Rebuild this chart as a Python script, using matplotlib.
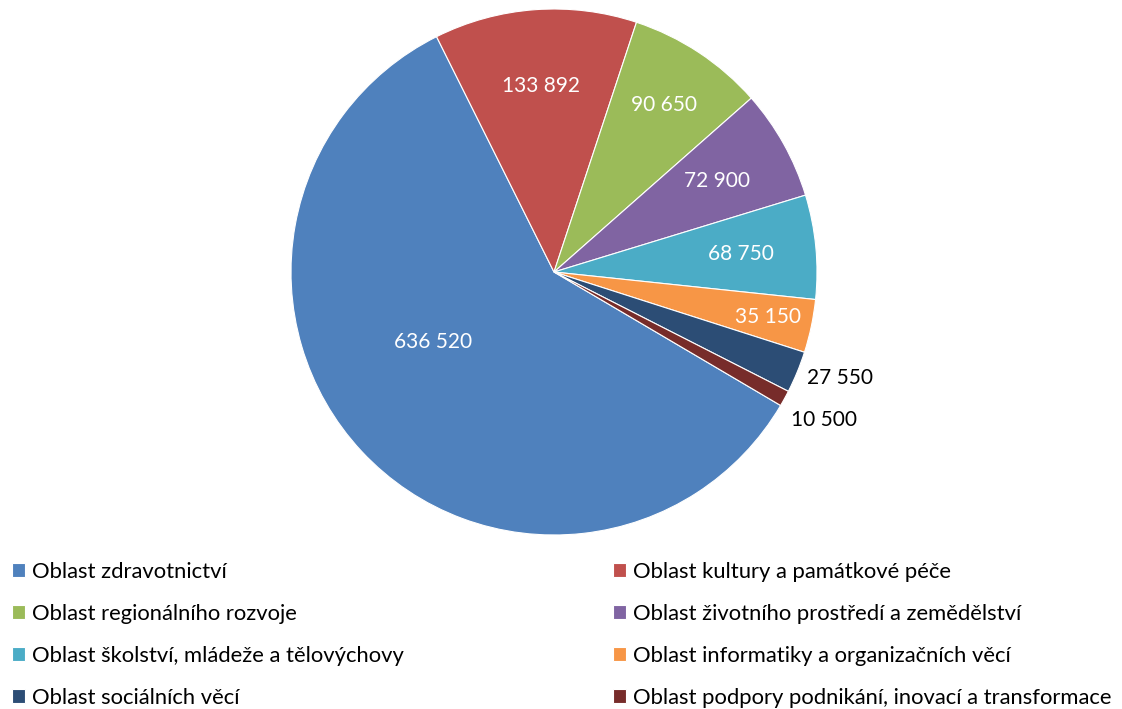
import numpy as np
import matplotlib
matplotlib.use("Agg")
from matplotlib import pyplot as plt

plt.rcParams['font.family'] = ['Lato', 'DejaVu Sans']

categories = [
    "Oblast zdravotnictví",
    "Oblast kultury a památkové péče",
    "Oblast regionálního rozvoje",
    "Oblast životního prostředí a zemědělství",
    "Oblast školství, mládeže a tělovýchovy",
    "Oblast informatiky a organizačních věcí",
    "Oblast sociálních věcí",
    "Oblast podpory podnikání, inovací a transformace",
]
values = [636520, 133892, 90650, 72900, 68750, 35150, 27550, 10500]
value_labels = ["636 520", "133 892", "90 650", "72 900", "68 750", "35 150", "27 550", "10 500"]
colors = ["#4F81BD", "#C0504D", "#9BBB59", "#8064A2", "#4BACC6", "#F79646", "#2C4D75", "#772C2A"]

# label placement (fraction of radius, angle shift in degrees clockwise)
label_r = [0.53, 0.71, 0.76, 0.71, 0.715, 0.83, 1.16, 1.17]
label_shift = [13, 0, 0, 0, 0, 0, -2, 0]
label_col = ["white"] * 6 + ["black"] * 2

fig = plt.figure(figsize=(11.22, 7.09), dpi=100)
ax = fig.add_axes([291 / 1122, 1 - 535 / 709, 526 / 1122, 526 / 709])
wedges, _ = ax.pie(values, colors=colors, startangle=90 - 120.5, counterclock=False,
                   radius=1, wedgeprops=dict(edgecolor="white", linewidth=0.8))
ax.set_xlim(-1, 1)
ax.set_ylim(-1, 1)
ax.set_aspect("equal")

for w, lab, r, s, c in zip(wedges, value_labels, label_r, label_shift, label_col):
    mid = np.deg2rad((w.theta1 + w.theta2) / 2 - s)
    ax.text(r * np.cos(mid), r * np.sin(mid), lab, color=c, fontsize=15,
            ha="center", va="center")

left = [wedges[i] for i in (0, 2, 4, 6)]
right = [wedges[i] for i in (1, 3, 5, 7)]
kw = dict(loc="upper left", frameon=False, fontsize=15.8, handlelength=0.6,
          handleheight=0.6, handletextpad=0.32, labelspacing=1.0, borderpad=0,
          borderaxespad=0)
fig.legend(left, [categories[i] for i in (0, 2, 4, 6)],
           bbox_to_anchor=(12 / 1122, 1 - 562 / 709), **kw)
fig.legend(right, [categories[i] for i in (1, 3, 5, 7)],
           bbox_to_anchor=(613 / 1122, 1 - 562 / 709), **kw)

fig.savefig("out.png", dpi=100)
